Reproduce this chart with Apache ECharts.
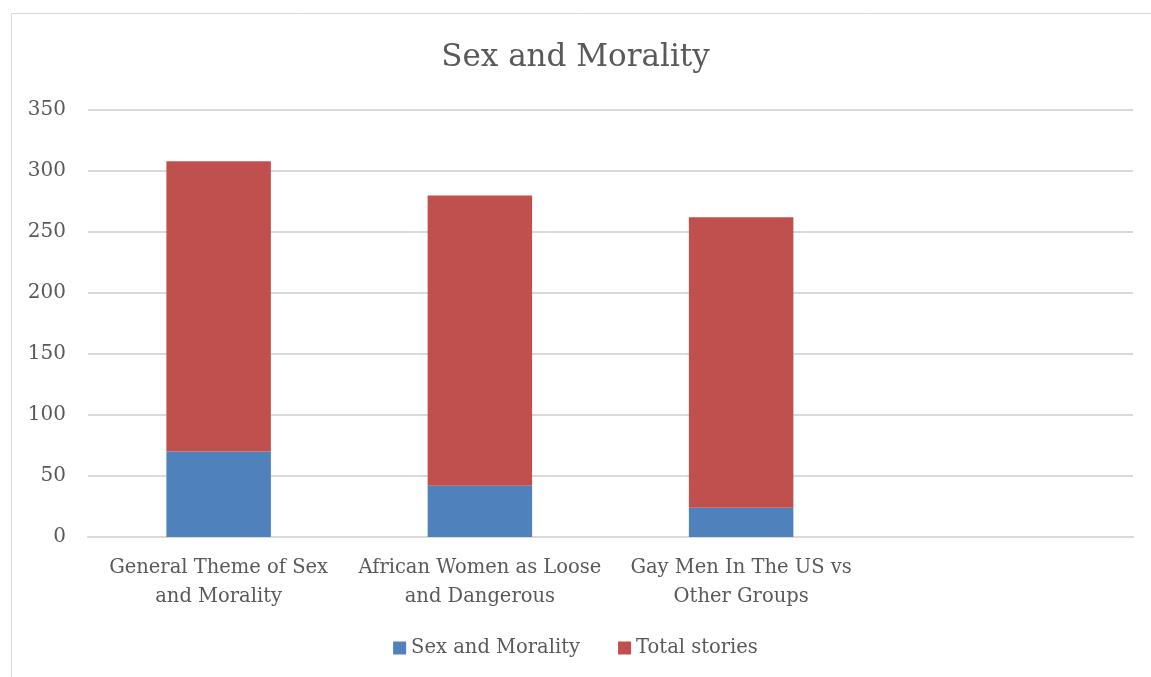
<!DOCTYPE html>
<html>
<head>
<meta charset="utf-8">
<script src="https://cdn.jsdelivr.net/npm/echarts@6/dist/echarts.min.js"></script>
<style>
  html, body { margin: 0; padding: 0; background: #fff; }
  #chart { width: 1151px; height: 677px; }
</style>
</head>
<body>
<div id="chart"></div>
<script>
// categories (the fourth slot is empty in the original)
const categories = [
  'General Theme of Sex\nand Morality',
  'African Women as Loose\nand Dangerous',
  'Gay Men In The US vs\nOther Groups',
  ''
]
// stacked series values
const sexMorality = [70, 42, 24, null]
const totalStories = [238, 238, 238, null]
const yTicks = { min: 0, max: 350, interval: 50 }

const font = 'DejaVu Serif'
const textColor = '#595959'

const myChart = echarts.init(document.getElementById('chart'))
myChart.setOption({
  animation: false,
  textStyle: { fontFamily: font },
  title: {
    text: 'Sex and Morality',
    left: 'center',
    top: 37,
    textStyle: { fontFamily: font, fontSize: 31, fontWeight: 'normal', color: textColor }
  },
  graphic: [{
    type: 'rect',
    shape: { x: 11.5, y: 13.5, width: 1160, height: 680 },
    style: { fill: 'none', stroke: '#d9d9d9', lineWidth: 1 },
    silent: true
  }],
  legend: {
    bottom: 14,
    left: 'center',
    itemWidth: 13,
    itemHeight: 13,
    itemGap: 38,
    icon: 'rect',
    textStyle: { fontFamily: font, fontSize: 19.5, color: textColor },
    data: ['Sex and Morality', 'Total stories']
  },
  grid: { left: 88, right: 18, top: 110, bottom: 140, containLabel: false },
  xAxis: {
    type: 'category',
    data: categories,
    axisLine: { lineStyle: { color: '#d9d9d9', width: 2 } },
    axisTick: { show: false },
    axisLabel: { interval: 0, fontFamily: font, fontSize: 19.5, color: textColor, lineHeight: 29, margin: 16 }
  },
  yAxis: {
    type: 'value',
    min: yTicks.min,
    max: yTicks.max,
    interval: yTicks.interval,
    axisLine: { show: false },
    axisTick: { show: false },
    splitLine: { lineStyle: { color: '#d9d9d9', width: 2 } },
    axisLabel: { fontFamily: font, fontSize: 20, color: textColor, margin: 22 }
  },
  series: [
    {
      name: 'Sex and Morality',
      type: 'bar',
      stack: 'total',
      barWidth: '40%',
      itemStyle: { color: '#4f81bd' },
      data: sexMorality
    },
    {
      name: 'Total stories',
      type: 'bar',
      stack: 'total',
      barWidth: '40%',
      itemStyle: { color: '#c0504d' },
      data: totalStories
    }
  ]
})
</script>
</body>
</html>
